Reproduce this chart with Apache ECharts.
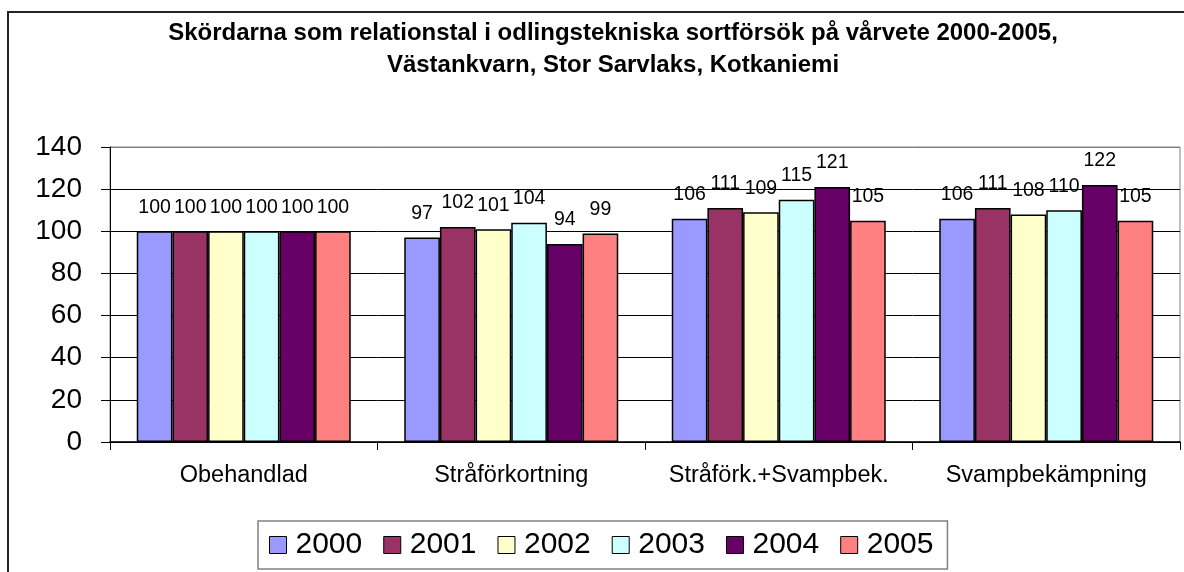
<!DOCTYPE html>
<html>
<head>
<meta charset="utf-8">
<script src="https://cdn.jsdelivr.net/npm/echarts@6/dist/echarts.min.js"></script>
<style>
  html, body { margin: 0; padding: 0; background: #fff; }
  #myChart { width: 1184px; height: 572px; }
</style>
</head>
<body>
<div id="myChart"></div>
<script>
// data
const categories = ["Obehandlad", "Stråförkortning", "Stråförk.+Svampbek.", "Svampbekämpning"];
const years = ["2000", "2001", "2002", "2003", "2004", "2005"];
const v2000 = [100, 97, 106, 106];
const v2001 = [100, 102, 111, 111];
const v2002 = [100, 101, 109, 108];
const v2003 = [100, 104, 115, 110];
const v2004 = [100, 94, 121, 122];
const v2005 = [100, 99, 105, 105];
const yTicks = [0, 20, 40, 60, 80, 100, 120, 140];

const values = [v2000, v2001, v2002, v2003, v2004, v2005];
const colors = ["#9999FF", "#993366", "#FFFFCC", "#CCFFFF", "#660066", "#FF8080"];
const font = "Liberation Sans, Arial, sans-serif";

const myChart = echarts.init(document.getElementById("myChart"));

myChart.setOption({
  animation: false,
  textStyle: { fontFamily: font },
  title: {
    text: "Skördarna som relationstal i odlingstekniska sortförsök på vårvete 2000-2005,\nVästankvarn, Stor Sarvlaks, Kotkaniemi",
    left: 608,
    top: 12,
    textAlign: "center",
    textStyle: {
      fontFamily: font,
      fontSize: 24,
      fontWeight: "bold",
      color: "#000",
      lineHeight: 32,
    },
  },
  // outer chart frame (only top/left visible in picture)
  graphic: [
    {
      type: "rect",
      shape: { x: 8, y: 12, width: 1240, height: 620 },
      style: { fill: null, stroke: "#222", lineWidth: 2 },
      silent: true,
      z: -1,
    },
  ],
  grid: {
    left: 110,
    right: 4,
    top: 147,
    bottom: 130,
    show: true,
    borderColor: "#808080",
    borderWidth: 1,
  },
  legend: {
    data: years,
    left: 258,
    top: 521,
    orient: "horizontal",
    icon: "rect",
    itemWidth: 17,
    itemHeight: 17,
    itemGap: 21,
    padding: [9, 14, 9, 11],
    borderColor: "#808080",
    borderWidth: 1.5,
    backgroundColor: "#fff",
    itemStyle: { borderColor: "#000", borderWidth: 1 },
    textStyle: { fontFamily: font, fontSize: 30, color: "#000", padding: [0, 0, 0, 4] },
  },
  xAxis: {
    type: "category",
    data: categories,
    axisLine: { lineStyle: { color: "#000", width: 1.5 } },
    axisTick: { show: true, alignWithLabel: false, length: 8, lineStyle: { color: "#000" } },
    axisLabel: { interval: 0, fontFamily: font, fontSize: 23.5, color: "#000", margin: 22 },
  },
  yAxis: {
    type: "value",
    min: yTicks[0],
    max: yTicks[yTicks.length - 1],
    interval: 20,
    axisLine: { show: true, lineStyle: { color: "#000", width: 1 } },
    axisTick: { show: true, length: 9, lineStyle: { color: "#000" } },
    axisLabel: { fontFamily: font, fontSize: 28, color: "#000", margin: 28 },
    splitLine: {
      show: true,
      lineStyle: {
        color: ["#000", "#000", "#000", "#000", "#000", "#000", "#000", "#808080"],
        width: 1,
      },
    },
  },
  series: years.map((y, i) => ({
    name: y,
    type: "bar",
    data: values[i],
    barGap: "0%",
    barCategoryGap: "20%",
    itemStyle: { color: colors[i], borderColor: "#000", borderWidth: 1.5 },
    label: {
      show: true,
      position: "top",
      distance: 14,
      fontFamily: font,
      fontSize: 19.5,
      color: "#000",
    },
    z: 3,
  })),
});
</script>
</body>
</html>
